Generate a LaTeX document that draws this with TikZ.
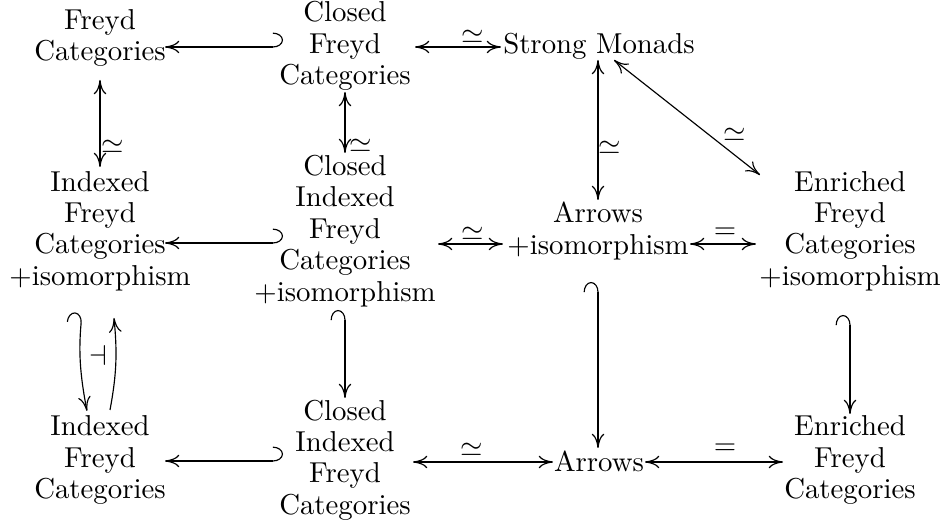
\documentclass[tikz,border=0pt]{standalone}
\usetikzlibrary{arrows.meta,calc}
\begin{document}
\begin{tikzpicture}[x=0.3472pt,y=-0.3472pt,
  obj/.style={font=\fontsize{10}{10.9}\selectfont, align=center, inner sep=0pt},
  xto/.tip={Computer Modern Rightarrow[length=5pt,width=4.4pt]},
  xhook/.tip={Hooks[left,arc=180,width=10pt,length=3.5pt]},
  ar/.style={line width=0.4pt, -xto},
  iso/.style={line width=0.4pt, xto-xto},
  hk/.style={line width=0.4pt, xhook-xto},
  lab/.style={inner sep=0pt, font=\fontsize{10}{12}\selectfont}
]
\useasboundingbox (0,0) rectangle (947,526);
\node[obj] (fc) at (100,38) {Freyd\\Categories};
\node[obj] (cf) at (345,46) {Closed\\Freyd\\Categories};
\node[obj] (sm) at (599,46) {Strong Monads};
\node[obj] (ifi) at (100,231) {Indexed\\Freyd\\Categories\\+isomorphism};
\node[obj] (cifi) at (345,231) {Closed\\Indexed\\Freyd\\Categories\\+isomorphism};
\node[obj] (ai) at (598,231) {Arrows\\+isomorphism};
\node[obj] (efi) at (850,231) {Enriched\\Freyd\\Categories\\+isomorphism};
\node[obj] (ifr) at (100,460) {Indexed\\Freyd\\Categories};
\node[obj] (cif) at (345,460) {Closed\\Indexed\\Freyd\\Categories};
\node[obj] (arr) at (599,461) {Arrows};
\node[obj] (ef) at (850,460) {Enriched\\Freyd\\Categories};

% row 1
\draw[hk] ($(cf)+(-62,1)$) -- ($(fc)+(65,9)$);
\draw[iso] ($(cf)+(70,1)$) -- node[lab,pos=.67,shift={(0,-10)}] {$\simeq$} ($(sm)+(-98,1)$);
% verticals top
\draw[iso] ($(fc)+(0,42)$) -- node[lab,pos=.77,shift={(13,0)}] {$\simeq$} ($(ifi)+(0,-64)$);
\draw[iso] ($(cf)+(0,46)$) -- node[lab,pos=.89,shift={(16,0)}] {$\simeq$} ($(cifi)+(0,-78)$);
\draw[iso] ($(sm)+(-1,14)$) -- node[lab,pos=.63,shift={(12,0)}] {$\simeq$} ($(ai)+(0,-31)$);
\draw[iso] ($(sm)+(15,14)$) -- node[lab,pos=.76,shift={(10,-12.5)}] {$\simeq$} ($(efi)+(-90,-56)$);
% row 2
\draw[hk] ($(cifi)+(-62,12)$) -- ($(ifi)+(65,12)$);
\draw[iso] ($(cifi)+(93,13)$) -- node[lab,pos=.54,shift={(0,-10)}] {$\simeq$} ($(ai)+(-95,13)$);
\draw[iso] ($(ai)+(92,13)$) -- node[lab,pos=.53,shift={(0,-11)}] {$=$} ($(efi)+(-94,13)$);
% verticals bottom
\draw[hk] ($(ai)+(0,51)$) -- ($(arr)+(-1,-13)$);
\draw[hk] ($(efi)+(0,84)$) -- ($(ef)+(0,-46)$);
\draw[hk] ($(cifi)+(0,79)$) -- ($(cif)+(0,-62)$);
\draw[hk] ($(ifi)+(-18,82)$) to[bend right=8] ($(ifr)+(-13,-49)$);
\draw[ar] ($(ifr)+(10,-50)$) to[bend right=8] node[lab,pos=.5,shift={(-17,-9)}] {$\dashv$} ($(ifi)+(14,87)$);
% row 3
\draw[hk] ($(cif)+(-62,1)$) -- ($(ifr)+(65,1)$);
\draw[iso] ($(cif)+(68,2)$) -- node[lab,pos=.42,shift={(0,-12)}] {$\simeq$} ($(arr)+(-46,1)$);
\draw[iso] ($(arr)+(46,1)$) -- node[lab,pos=.58,shift={(0,-13)}] {$=$} ($(ef)+(-67,2)$);
\end{tikzpicture}
\end{document}
